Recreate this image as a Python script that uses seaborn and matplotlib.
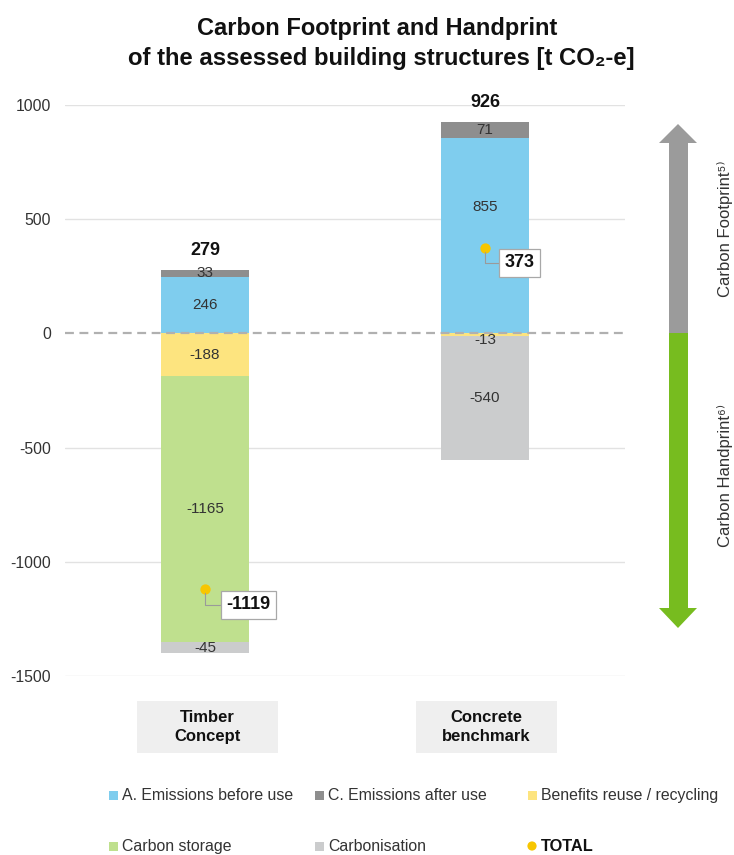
import matplotlib
matplotlib.use("Agg")
import matplotlib.pyplot as plt
import seaborn as sns
import pandas as pd
import numpy as np
from matplotlib.patches import Rectangle, Polygon, Circle

# ---------------- data ----------------
concepts = ["Timber\nConcept", "Concrete\nbenchmark"]
components = ["A. Emissions before use", "C. Emissions after use",
              "Benefits reuse / recycling", "Carbon storage", "Carbonisation"]
emissions_before = [246, 855]
emissions_after = [33, 71]
benefits_reuse = [-188, -13]
carbon_storage = [-1165, 0]
carbonisation = [-45, -540]
footprint_totals = [279, 926]
net_totals = [-1119, 373]
yticks = [1000, 500, 0, -500, -1000, -1500]

colors = ["#7fcdee", "#8e8e8e", "#fde47f", "#bfe08e", "#cbcccd"]
total_color = "#f7c600"
text_color = "#333333"

sns.set_theme(style="white")
plt.rcParams['font.family'] = ['Liberation Sans', 'DejaVu Sans']

W, H = 734, 855
fig = plt.figure(figsize=(W / 100, H / 100), dpi=100)
ax = fig.add_axes([65 / W, 1 - 676 / H, 560 / W, (676 - 105) / H])

series = [emissions_before, emissions_after, benefits_reuse, carbon_storage, carbonisation]
pos_base = np.zeros(len(concepts))
neg_base = np.zeros(len(concepts))
for k, (name, vals, col) in enumerate(zip(components, series, colors)):
    vals = np.array(vals, dtype=float)
    bottom = np.where(vals >= 0, pos_base, neg_base)
    df = pd.DataFrame({"concept": concepts, "value": vals})
    sns.barplot(data=df, x="concept", y="value", bottom=bottom, color=col,
                width=0.314, errorbar=None, ax=ax, saturation=1,
                linewidth=0, zorder=2)
    for i, (v, b) in enumerate(zip(vals, bottom)):
        if v == 0:
            continue
        if abs(v) < 20:
            ax.text(i, b, f"{v:.0f}", ha="center", va="top" if v < 0 else "bottom",
                    fontsize=11, color=text_color, zorder=4)
        else:
            ymid = b + v / 2
            # move the label away from the net-total marker when they would collide
            if abs(ymid - net_totals[i]) < 120:
                ymid += 128
            ax.text(i, ymid, f"{v:.0f}", ha="center", va="center",
                    fontsize=11, color=text_color, zorder=4)
    pos_base = np.where(vals >= 0, pos_base + vals, pos_base)
    neg_base = np.where(vals < 0, neg_base + vals, neg_base)

ax.set_xlim(-0.5, 1.5)
ax.set_ylim(-1500, 1000)
for t in yticks:
    if t == 0:
        ax.axhline(t, color="#b0b0b0", lw=1.6, ls=(0, (4, 2.5)), zorder=3)
    else:
        ax.axhline(t, color="#e2e2e2", lw=1.0, zorder=0)
ax.set_yticks(yticks)
ax.set_yticklabels([str(t) for t in yticks])
ax.tick_params(axis="y", length=0, pad=10, labelsize=11.3, labelcolor=text_color)
ax.set_xticks([])
ax.set_xlabel("")
ax.set_ylabel("")
for s in ax.spines.values():
    s.set_visible(False)
ax.patch.set_alpha(0)

# gross footprint totals above bars
for i, v in enumerate(footprint_totals):
    ax.annotate(f"{v}", xy=(i, v), xytext=(0, 8), textcoords="offset points",
                ha="center", va="bottom", fontsize=13, fontweight="bold",
                color="#111111", annotation_clip=False)

# net totals
ax.scatter(range(len(net_totals)), net_totals, s=55, color=total_color, zorder=5,
           linewidths=0)
offsets = [(31, -11.5), (25, -10.5)]
for i, v in enumerate(net_totals):
    ax.annotate(f"{v}", xy=(i, v), xytext=offsets[i], textcoords="offset points",
                ha="center", va="center", fontsize=13, fontweight="bold",
                color="#111111", zorder=6,
                bbox=dict(boxstyle="square,pad=0.3", fc="white", ec="#a8a8a8", lw=0.9),
                arrowprops=dict(arrowstyle="-", color="#9a9a9a", lw=0.8,
                                connectionstyle="angle,angleA=0,angleB=90",
                                shrinkA=0, shrinkB=3))

# ---------------- overlay (pixel coords) ----------------
ov = fig.add_axes([0, 0, 1, 1])
ov.set_xlim(0, W)
ov.set_ylim(H, 0)
ov.axis("off")
ov.patch.set_alpha(0)

fig.text(377 / W, 1 - 28 / H, "Carbon Footprint and Handprint", ha="center", va="center",
         fontsize=17, fontweight="bold", color="#111111")
fig.text(381 / W, 1 - 58 / H, "of the assessed building structures [t CO₂-e]", ha="center",
         va="center", fontsize=17.2, fontweight="bold", color="#111111")

# arrow
arrow_gray = "#9b9b9b"
arrow_green = "#77bc1f"
ov.add_patch(Polygon([(669, 333), (669, 143), (659, 143), (678, 124), (697, 143),
                      (688, 143), (688, 333)], closed=True, fc=arrow_gray, ec="none"))
ov.add_patch(Polygon([(669, 333), (669, 608), (659, 608), (678, 628), (697, 608),
                      (688, 608), (688, 333)], closed=True, fc=arrow_green, ec="none"))
ov.text(725, 229, "Carbon Footprint⁵⁾", rotation=90, ha="center", va="center",
        fontsize=12, color=text_color, family=['Liberation Sans', 'DejaVu Sans'])
ov.text(725, 475, "Carbon Handprint⁶⁾", rotation=90, ha="center", va="center",
        fontsize=12, color=text_color, family=['Liberation Sans', 'DejaVu Sans'])

# category boxes
for cx, label in zip([207.5, 486.5], concepts):
    ov.add_patch(Rectangle((cx - 70.5, 701), 141, 52, fc="#efefef", ec="none"))
    ov.text(cx, 727, label, ha="center", va="center", fontsize=12, fontweight="bold",
            color="#111111", linespacing=1.4)

# legend
leg_items = [(components[0], colors[0], 113, 795), (components[1], colors[1], 319, 795),
             (components[2], colors[2], 532, 795), (components[3], colors[3], 113, 846),
             (components[4], colors[4], 319, 846)]
for lab, col, mx, my in leg_items:
    ov.add_patch(Rectangle((mx - 4.5, my - 4.5), 9, 9, fc=col, ec="none"))
    ov.text(mx + 9, my, lab, ha="left", va="center", fontsize=11.4, color=text_color)
ov.add_patch(Circle((532, 846), 4.6, fc=total_color, ec="none"))
ov.text(541, 846, "TOTAL", ha="left", va="center", fontsize=11.8, fontweight="bold",
        color="#111111")

fig.savefig("out.png", dpi=100)
